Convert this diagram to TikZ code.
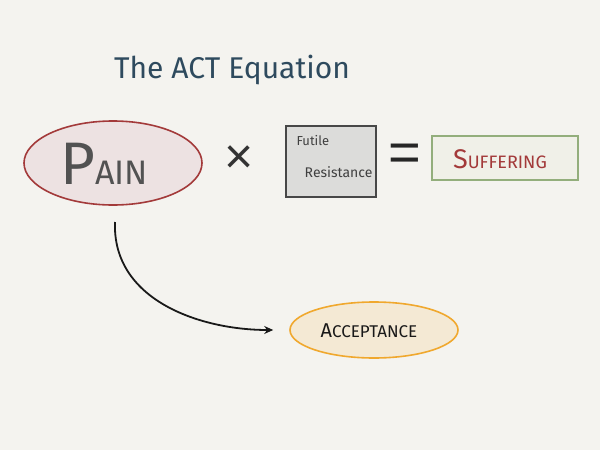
\documentclass[tikz,border=0pt]{standalone}
\usepackage{fontspec}
\setmainfont{Fira Sans}
\newfontfamily\symfont{Liberation Sans}
\usetikzlibrary{shapes.geometric,arrows.meta}
\definecolor{bg}{HTML}{F4F3EF}
\definecolor{ttl}{HTML}{2E4A5E}
\definecolor{painred}{HTML}{A33A3A}
\definecolor{painfill}{HTML}{EDE2E2}
\definecolor{boxfill}{HTML}{DCDCDA}
\definecolor{boxline}{HTML}{474747}
\definecolor{sufline}{HTML}{93AE7C}
\definecolor{suffill}{HTML}{F0F0E8}
\definecolor{accline}{HTML}{F0A82E}
\definecolor{accfill}{HTML}{F4E9D4}
\begin{document}
\begin{tikzpicture}[x=1pt,y=-1pt,
  ellnode/.style={ellipse,draw,line width=1.6pt,inner sep=0pt},
  boxnode/.style={rectangle,draw,line width=1.5pt,inner sep=0pt},
  hand/.style={font=\fontsize{#1}{#1}\selectfont}]
\fill[bg] (0,0) rectangle (600,450);
\useasboundingbox (0,0) rectangle (600,450);
\node[text=ttl,hand=30] (title) at (232,70) {The ACT Equation};
\node[ellnode,draw=painred,fill=painfill,minimum width=178pt,minimum height=84pt] (pain) at (113,163) {};
\node[text=black!68] (paintext) at (104,164) {\fontsize{60}{60}\selectfont P\fontsize{34}{34}\selectfont AIN};
\node[text=black!80,font=\symfont\fontsize{50}{50}\selectfont] (times) at (239,160) {×};
\node[boxnode,draw=boxline,fill=boxfill,minimum width=90pt,minimum height=71pt] (futile) at (331,161.5) {};
\node[hand=13,text=black!75,anchor=west] (fut1) at (293,141) {Futile};
\node[hand=14,text=black!75,anchor=east] (fut2) at (376,172) {Resistance};
\node[text=black!85,font=\symfont\fontsize{56}{56}\selectfont] (eq) at (405,158) {=};
\node[boxnode,draw=sufline,fill=suffill,line width=1.3pt,minimum width=146pt,minimum height=44pt] (suf) at (505,158) {};
\node[text=painred] (suftext) at (500,159) {\fontsize{27}{27}\selectfont S\fontsize{18}{18}\selectfont UFFERING};
\node[ellnode,draw=accline,fill=accfill,minimum width=168pt,minimum height=56pt] (acc) at (374,330) {};
\node[text=black!90] (acctext) at (369,331) {\fontsize{20}{20}\selectfont A\fontsize{17}{17}\selectfont CCEPTANCE};
\coordinate (start) at (115,222);
\draw[line width=1.8pt,black!90,-{Stealth[length=9pt,width=8pt]},shorten >=16pt]
  (start) .. controls (112,300) and (200,330) .. (acc.west);
\end{tikzpicture}
\end{document}
